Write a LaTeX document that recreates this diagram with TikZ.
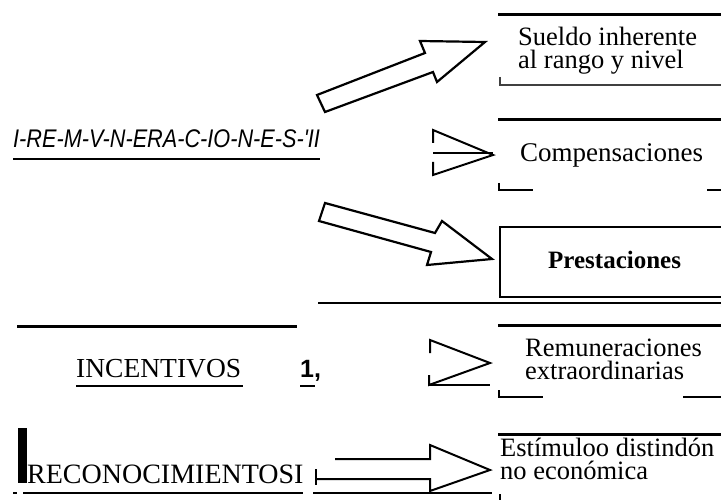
\documentclass[tikz,border=0pt]{standalone}
\usepackage{fontspec}
\setmainfont{Liberation Serif}
\setsansfont{Liberation Sans}
\usepackage{graphicx}
\begin{document}
\begin{tikzpicture}[x=1pt,y=-1pt,
  heavy/.style={line width=3pt},
  rule/.style={line width=1.5pt},
  mid/.style={line width=2pt},
  blockarrow/.style={draw, line width=2.2pt, line join=miter, fill=white},
  openarrow/.style={line width=2pt, line join=miter},
  lbl/.style={anchor=base west, inner sep=0pt},
  boxtext/.style={lbl, align=left, font=\fontsize{26.5}{23.5}\selectfont},
  lowtext/.style={lbl, align=left, font=\fontsize{26.5}{23}\selectfont}]
\useasboundingbox (0,0) rectangle (721,500);

% ---------- left column ----------
\node[lbl] (rem) at (13,148) {\scalebox{0.85}[1]{\sffamily\itshape\fontsize{25.5}{25.5}\selectfont I-RE-M-V-N-ERA-C-IO-N-E-S-\textquotesingle II}};
\draw[rule] (13,159) -- (320,159);

\draw[heavy] (17,326) -- (297,326);
\node[lbl, font=\fontsize{27.5}{27.5}\selectfont] (inc) at (76,377) {INCENTIVOS};
\draw[rule] (76,386) -- (243,386);
\node[lbl, font=\sffamily\bfseries\fontsize{25}{25}\selectfont] (one) at (300,377) {1,};
\draw[rule] (300,386) -- (315,386);

\fill (18,428) rectangle (27,483);
\node[lbl, font=\fontsize{28}{28}\selectfont] (rec) at (27,483) {RECONOCIMIENTOSI};
\draw[rule] (13,493) -- (17,493);
\draw[rule] (23,493) -- (303,493);
\draw[rule] (313,493) -- (492,493);

% ---------- arrows ----------
\draw[blockarrow] (317,95) -- (425,53) -- (420,41) -- (485,42) -- (437,82) -- (433,72) -- (325,112) -- cycle;
\draw[blockarrow] (325,203) -- (435,233) -- (442,221) -- (492,259) -- (427,265) -- (431,252) -- (319,221) -- cycle;

\draw[openarrow] (433,143) -- (433,130) -- (493,155) -- (433,175) -- (433,162);
\draw[rule] (433,153) -- (493,153);

\draw[openarrow] (430,353) -- (430,340) -- (490,363) -- (429,385) -- (429,375);
\draw[rule] (429,385) -- (490,385);

\draw[openarrow] (335,459) -- (430,459) -- (430,445) -- (490,470) -- (430,491) -- (430,479) -- (315,479);
\draw[mid] (316,469) -- (316,485);

% ---------- right column ----------
\draw[heavy] (498,15) -- (721,15);
\node[boxtext] (s1) at (518,69) {Sueldo inherente\\al rango y nivel};
\draw[rule, black!75] (500,77) -- (500,85) -- (721,85);

\draw[heavy] (498,120) -- (721,120);
\node[lbl, font=\fontsize{27}{27}\selectfont] (comp) at (520,162) {Compensaciones};
\draw[mid] (499,183) -- (499,190.5) -- (533,190.5);
\draw[mid] (707,190.5) -- (721,190.5);

\draw[mid] (721,227) -- (500,227) -- (500,297) -- (721,297);
\node[lbl, font=\bfseries\fontsize{25}{25}\selectfont] (prest) at (548,269) {Prestaciones};
\draw[mid] (318,303) -- (721,303);

\draw[heavy] (498,325) -- (721,325);
\node[lowtext] (r1) at (525,379) {Remuneraciones\\extraordinarias};
\draw[mid] (499,390) -- (499,397) -- (543,397);
\draw[mid] (683,397) -- (721,397);

\draw[heavy] (498,434) -- (721,434);
\node[lowtext] (e1) at (500,479) {Estímuloo distindón\\no económica};
\draw[mid] (500,494) -- (500,500);
\end{tikzpicture}
\end{document}
